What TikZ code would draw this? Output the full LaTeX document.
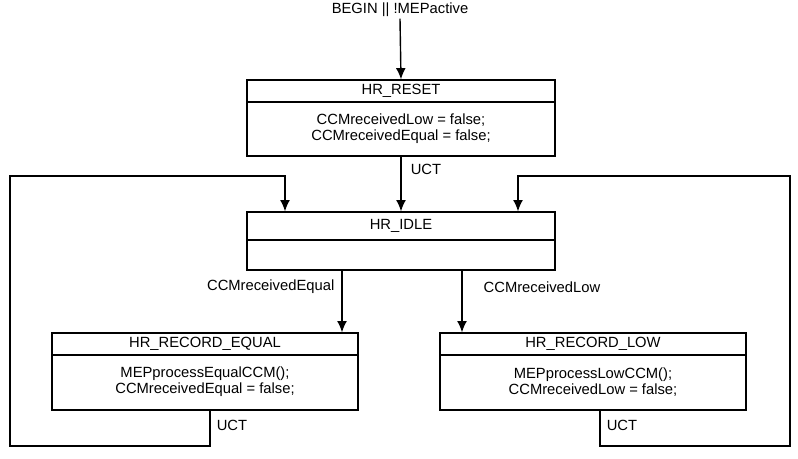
\documentclass[tikz,border=0pt]{standalone}
\usepackage{fontspec}
\setmainfont{Liberation Sans}
\usetikzlibrary{arrows.meta}
\begin{document}
\begin{tikzpicture}[x=0.025cm,y=-0.025cm,
  box/.style={draw,line width=0.9pt,inner sep=0pt},
  lbl/.style={font=\fontsize{10.5}{11.5}\selectfont,inner sep=1pt,align=center},
  arr/.style={line width=1pt,-{Latex[length=8pt,width=7pt]}},
  ln/.style={line width=1pt}]
\useasboundingbox (0,0) rectangle (798,459);
% boxes
\node[box,minimum width=308*0.025cm,minimum height=76*0.025cm] (reset) at (401,118) {};
\draw[line width=0.9pt] (247,102) -- (555,102);
\node[lbl] (resetT) at (401,91) {HR\_RESET};
\node[lbl] (resetB) at (401,129) {CCMreceivedLow = false;\\CCMreceivedEqual = false;};

\node[box,minimum width=308*0.025cm,minimum height=58*0.025cm] (idle) at (401,241) {};
\draw[line width=0.9pt] (247,240) -- (555,240);
\node[lbl] (idleT) at (401,226) {HR\_IDLE};

\node[box,minimum width=306*0.025cm,minimum height=77*0.025cm] (req) at (205,371.5) {};
\draw[line width=0.9pt] (52,355) -- (358,355);
\node[lbl] (reqT) at (205,344) {HR\_RECORD\_EQUAL};
\node[lbl] (reqB) at (205,382) {MEPprocessEqualCCM();\\CCMreceivedEqual = false;};

\node[box,minimum width=306*0.025cm,minimum height=77*0.025cm] (rlow) at (593,371.5) {};
\draw[line width=0.9pt] (440,355) -- (746,355);
\node[lbl] (rlowT) at (593,344) {HR\_RECORD\_LOW};
\node[lbl] (rlowB) at (593,382) {MEPprocessLowCCM();\\CCMreceivedLow = false;};

% begin
\node[lbl] (begin) at (400,10) {BEGIN || !MEPactive};
\draw[arr] (begin.south) -- (reset.north);
% UCT reset->idle
\draw[arr] (reset.south) -- (idle.north);
\node[lbl] (uct1) at (426,169) {UCT};
% idle -> records
\draw[arr] (idle.south -| 342,0) -- (req.north -| 342,0);
\node[lbl,anchor=east] (l1) at (336,287) {CCMreceivedEqual};
\draw[arr] (idle.south -| 462,0) -- (rlow.north -| 462,0);
\node[lbl,anchor=west] (l2) at (482,287) {CCMreceivedLow};
% loops
\coordinate (a1) at (210,446); \coordinate (a2) at (10,446); \coordinate (a3) at (10,176); \coordinate (a4) at (285,176);
\draw[arr] (req.south -| 210,0) -- (a1) -- (a2) -- (a3) -- (a4) -- (idle.north -| 285,0);
\node[lbl] (uct2) at (232,425) {UCT};
\coordinate (b1) at (600,446); \coordinate (b2) at (790,446); \coordinate (b3) at (790,176); \coordinate (b4) at (518,176);
\draw[arr] (rlow.south -| 600,0) -- (b1) -- (b2) -- (b3) -- (b4) -- (idle.north -| 518,0);
\node[lbl] (uct3) at (622,425) {UCT};
\end{tikzpicture}
\end{document}
